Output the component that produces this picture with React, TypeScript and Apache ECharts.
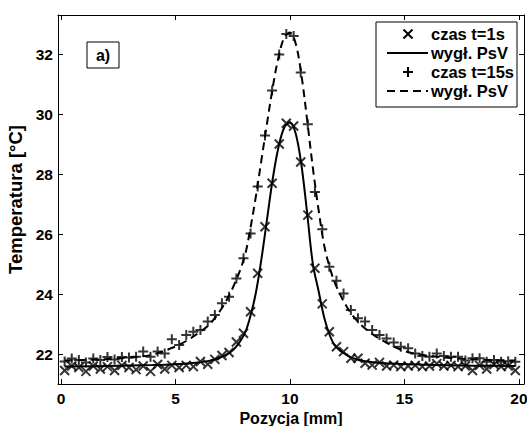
import React, { useEffect, useRef } from "react";
import * as echarts from "echarts";

// Measurement positions [mm]
const positions = [
  0.16, 0.47, 0.78, 1.09, 1.41, 1.72, 2.03, 2.34, 2.66, 2.97, 3.28, 3.59, 3.91, 4.22, 4.53, 4.84,
  5.16, 5.47, 5.78, 6.09, 6.41, 6.72, 7.03, 7.34, 7.66, 7.97, 8.28, 8.59, 8.91, 9.22, 9.53, 9.84,
  10.16, 10.47, 10.78, 11.09, 11.41, 11.72, 12.03, 12.34, 12.66, 12.97, 13.28, 13.59, 13.91, 14.22, 14.53, 14.84,
  15.16, 15.47, 15.78, 16.09, 16.41, 16.72, 17.03, 17.34, 17.66, 17.97, 18.28, 18.59, 18.91, 19.22, 19.53, 19.84,
];

// czas t=1s (x markers)
const tempT1 = [
  21.45, 21.6, 21.55, 21.42, 21.6, 21.5, 21.58, 21.45, 21.62, 21.55, 21.48, 21.6, 21.42, 21.65, 21.5, 21.62,
  21.55, 21.62, 21.58, 21.75, 21.66, 21.82, 21.95, 22.05, 22.4, 22.69, 23.41, 24.69, 26.24, 27.69, 29.0, 29.69,
  29.6, 28.4, 26.63, 24.86, 23.67, 22.74, 22.24, 22.08, 21.86, 21.86, 21.69, 21.63, 21.72, 21.6, 21.63, 21.58,
  21.6, 21.62, 21.58, 21.6, 21.68, 21.6, 21.62, 21.58, 21.6, 21.45, 21.62, 21.5, 21.65, 21.58, 21.6, 21.45,
];

// czas t=15s (+ markers)
const tempT15 = [
  21.75, 21.85, 21.8, 21.72, 21.85, 21.8, 21.9, 21.82, 21.9, 21.88, 21.91, 22.08, 21.91, 22.08, 22.02, 22.49,
  22.3, 22.63, 22.74, 22.8, 23.08, 23.3, 23.69, 23.91, 24.52, 25.19, 26.02, 27.58, 29.28, 30.78, 31.98, 32.67,
  32.6, 31.38, 29.66, 27.4, 26.16, 24.91, 24.44, 24.02, 23.47, 23.19, 23.08, 22.8, 22.63, 22.52, 22.38, 22.24,
  22.19, 22.02, 21.93, 21.91, 22.02, 21.93, 21.91, 21.91, 21.78, 21.86, 21.86, 21.74, 21.8, 21.74, 21.76, 21.74,
];

// PsV fit, t=1s
const fitPosT1 = [0.16, 2, 4, 5, 6, 6.5, 7, 7.5, 8, 8.25, 8.5, 8.75, 9, 9.25, 9.5, 9.75, 10, 10.25, 10.5, 10.75, 11, 11.25, 11.5, 11.75, 12, 12.5, 13, 14, 16, 18, 19.84];
const fitT1 = [21.58, 21.6, 21.63, 21.66, 21.72, 21.78, 21.9, 22.12, 22.65, 23.2, 24.0, 25.15, 26.5, 27.85, 28.9, 29.55, 29.72, 29.35, 28.3, 26.7, 25.0, 24.1, 23.2, 22.6, 22.25, 21.95, 21.8, 21.7, 21.64, 21.61, 21.6];

// PsV fit, t=15s
const fitPosT15 = [0.16, 2, 3, 4, 5, 5.5, 6, 6.5, 7, 7.5, 8, 8.25, 8.5, 8.75, 9, 9.25, 9.5, 9.75, 10, 10.25, 10.5, 10.75, 11, 11.25, 11.5, 11.75, 12, 12.5, 13, 13.5, 14, 15, 16, 17, 18, 19.84];
const fitT15 = [21.78, 21.83, 21.88, 21.98, 22.25, 22.45, 22.7, 23.0, 23.5, 24.2, 25.2, 26.1, 27.2, 28.45, 29.7, 30.9, 31.9, 32.55, 32.72, 32.35, 31.3, 29.8, 28.2, 26.8, 25.6, 24.85, 24.3, 23.55, 23.05, 22.72, 22.47, 22.1, 21.95, 21.87, 21.82, 21.78];

const xTicks = [0, 5, 10, 15, 20];
const yTicks = [22, 24, 26, 28, 30, 32];
const legendLabels = ["czas t=1s", "wygł. PsV", "czas t=15s", "wygł. PsV"];
const panelLabel = "a)";
const xTitle = "Pozycja [mm]";
const yTitle = "Temperatura [°C]";

const FONT = "Liberation Sans, Arial, sans-serif";
const CROSS = "path://M0,0L10,10M0,10L10,0";
const PLUS = "path://M5,0L5,10M0,5L10,5";

export default function App() {
  const ref = useRef<HTMLDivElement>(null);

  useEffect(() => {
    document.body.style.margin = "0";
    const chart = echarts.init(ref.current!, null, { renderer: "svg" });
    const zip = (xs: number[], ys: number[]) => xs.map((x, i) => [x, ys[i]]);
    const tickStyle = { color: "#000", width: 1 };
    const labelStyle = { color: "#000", fontWeight: "bold" as const, fontSize: 15.5, fontFamily: FONT };

    const legendX0 = 376, legendY0 = 22, legendW = 141, legendH = 85;
    const rowY = [34, 53, 72, 91];
    const textX = 431;
    const sampleX1 = 387, sampleX2 = 428, markX = 408;

    const option: any = {
      animation: false,
      grid: { left: 58, top: 15, right: 3, bottom: 42, containLabel: false, outerBoundsMode: "none" },
      xAxis: [
        {
          type: "value", position: "bottom", min: -0.13, max: 20.22,
          axisLine: { show: true, onZero: false, lineStyle: tickStyle },
          axisTick: { show: true, inside: true, length: 5, customValues: xTicks, lineStyle: tickStyle },
          axisLabel: { customValues: xTicks, margin: 6, ...labelStyle },
          splitLine: { show: false },
          name: xTitle, nameLocation: "middle", nameGap: 22,
          nameTextStyle: { ...labelStyle, fontSize: 16 },
        },
        {
          type: "value", position: "top", min: -0.13, max: 20.22,
          axisLine: { show: true, onZero: false, lineStyle: tickStyle },
          axisTick: { show: true, inside: true, length: 5, customValues: xTicks, lineStyle: tickStyle },
          axisLabel: { show: false },
          splitLine: { show: false },
        },
      ],
      yAxis: [
        {
          type: "value", position: "left", min: 21.0, max: 33.3,
          axisLine: { show: true, onZero: false, lineStyle: tickStyle },
          axisTick: { show: true, inside: true, length: 5, customValues: yTicks, lineStyle: tickStyle },
          axisLabel: { customValues: yTicks, margin: 5, ...labelStyle },
          splitLine: { show: false },
          name: yTitle, nameLocation: "middle", nameGap: 26,
          nameTextStyle: { ...labelStyle, fontSize: 18.5 },
        },
        {
          type: "value", position: "right", min: 21.0, max: 33.3,
          axisLine: { show: true, onZero: false, lineStyle: tickStyle },
          axisTick: { show: true, inside: true, length: 5, customValues: yTicks, lineStyle: tickStyle },
          axisLabel: { show: false },
          splitLine: { show: false },
        },
      ],
      series: [
        {
          name: legendLabels[1], type: "line", data: zip(fitPosT1, fitT1), smooth: 0.35,
          showSymbol: false, symbol: "none", lineStyle: { color: "#000", width: 2 }, z: 2,
        },
        {
          name: legendLabels[3], type: "line", data: zip(fitPosT15, fitT15), smooth: 0.35,
          showSymbol: false, symbol: "none", lineStyle: { color: "#000", width: 2, type: [8, 5] }, z: 2,
        },
        {
          name: legendLabels[0], type: "scatter", data: zip(positions, tempT1), symbol: CROSS, symbolSize: 9,
          itemStyle: { color: "rgba(0,0,0,0)", borderColor: "#000", borderWidth: 2 }, z: 3,
        },
        {
          name: legendLabels[2], type: "scatter", data: zip(positions, tempT15), symbol: PLUS, symbolSize: 10,
          itemStyle: { color: "rgba(0,0,0,0)", borderColor: "#000", borderWidth: 2 }, z: 3,
        },
      ],
      graphic: [
        {
          type: "rect", shape: { x: 87, y: 42, width: 32, height: 26 },
          style: { fill: "#fff", stroke: "#000", lineWidth: 1 }, z: 10,
        },
        {
          type: "text", x: 103, y: 55,
          style: { text: panelLabel, fill: "#000", font: `bold 16px ${FONT}`, align: "center", verticalAlign: "middle" }, z: 11,
        },
        {
          type: "rect", shape: { x: legendX0, y: legendY0, width: legendW, height: legendH },
          style: { fill: "#fff", stroke: "#000", lineWidth: 1 }, z: 10,
        },
        { type: "line", shape: { x1: markX - 4.5, y1: rowY[0] - 4.5, x2: markX + 4.5, y2: rowY[0] + 4.5 }, style: { stroke: "#000", lineWidth: 2 }, z: 11 },
        { type: "line", shape: { x1: markX - 4.5, y1: rowY[0] + 4.5, x2: markX + 4.5, y2: rowY[0] - 4.5 }, style: { stroke: "#000", lineWidth: 2 }, z: 11 },
        { type: "line", shape: { x1: sampleX1, y1: rowY[1], x2: sampleX2, y2: rowY[1] }, style: { stroke: "#000", lineWidth: 2 }, z: 11 },
        { type: "line", shape: { x1: markX - 5, y1: rowY[2], x2: markX + 5, y2: rowY[2] }, style: { stroke: "#000", lineWidth: 2 }, z: 11 },
        { type: "line", shape: { x1: markX, y1: rowY[2] - 5, x2: markX, y2: rowY[2] + 5 }, style: { stroke: "#000", lineWidth: 2 }, z: 11 },
        { type: "line", shape: { x1: sampleX1, y1: rowY[3], x2: sampleX2, y2: rowY[3] }, style: { stroke: "#000", lineWidth: 2, lineDash: [8, 5] }, z: 11 },
        ...legendLabels.map((t, i) => ({
          type: "text", x: textX, y: rowY[i],
          style: { text: t, fill: "#000", font: `bold 16.5px ${FONT}`, align: "left", verticalAlign: "middle" }, z: 11,
        })),
      ],
    };
    chart.setOption(option);
    return () => chart.dispose();
  }, []);

  return <div ref={ref} style={{ width: 527, height: 426 }} />;
}
